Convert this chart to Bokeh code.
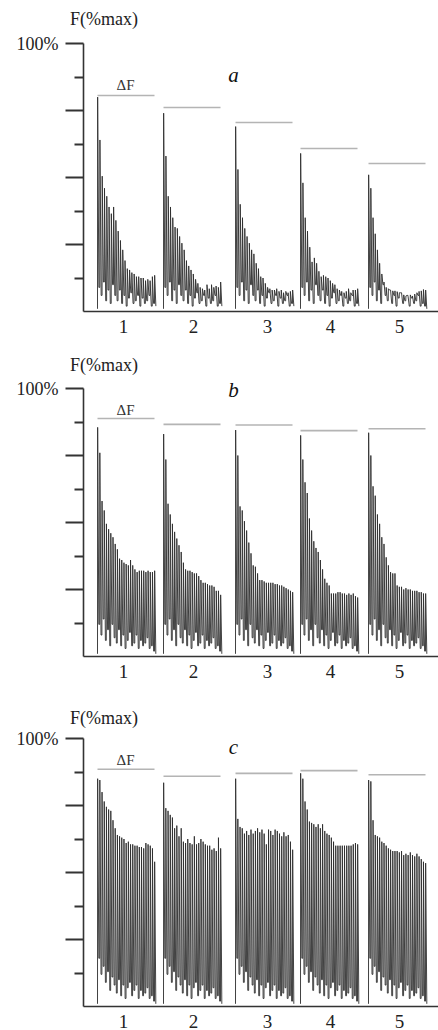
from bokeh.plotting import figure
from bokeh.layouts import column
from bokeh.models import Range1d, FixedTicker, Label
from bokeh.embed import file_html
from bokeh.resources import INLINE

# ---------------- data ----------------
groups = ["1", "2", "3", "4", "5"]
y_ticks_major = [25, 50, 75, 100]
y_ticks_minor = [12.5, 37.5, 62.5, 87.5]

peaks_a1 = [80, 64, 50.5, 46, 43, 39, 36.5, 39, 34, 30, 26.5, 23, 19, 16, 15.5, 14.5, 14, 13, 13, 12.5, 12.5, 11.5, 12, 11.5, 13, 13.5]
peaks_a2 = [74, 58, 43, 39, 35, 31.5, 31, 28, 25.5, 23, 19, 17, 15.5, 14, 12, 10.5, 9, 8.5, 8, 10, 8.5, 10, 9, 9.5, 9, 11]
peaks_a3 = [69, 53, 40, 35, 31, 28, 25.5, 23, 21.5, 18, 16, 13, 12.5, 10.5, 9, 8.5, 8, 8, 8.5, 7.5, 8, 7, 7.5, 7, 7.5, 8]
peaks_a4 = [59, 48, 35, 30, 24, 18.5, 20, 18, 15, 13, 13.5, 13, 12.5, 11.5, 10.5, 10, 8.5, 8, 7.5, 7, 7.5, 8.5, 7, 8, 8, 8.5]
peaks_a5 = [51, 46, 35, 29, 23, 18, 14, 11, 9, 8.5, 8, 7.7, 7.7, 7.4, 7, 7, 6.2, 5.8, 5.5, 6.2, 5.8, 6.5, 7, 7.5, 7.7, 8.2, 8]
delta_a = [80.6, 76.1, 70.5, 60.8, 55.2]
troughs_a = [1, 9, 6, 11, 4, 8, 3, 10, 6, 4, 8, 3, 6, 2, 5, 7, 3, 4, 6, 2, 5, 3, 4, 6, 2, 3, 2, 1]

peaks_b1 = [85.5, 76, 58, 54.5, 49.5, 47.5, 46, 44.5, 42, 40, 36.5, 36, 35, 34.5, 34, 36, 34, 32.5, 31.5, 32, 32, 32, 31.5, 32, 31.5, 31.5, 32]
peaks_b2 = [83, 73.5, 57, 53, 49.5, 46.5, 44, 41.5, 39, 35, 32.5, 32, 32, 31.5, 31, 31, 30, 28.5, 27.5, 27.5, 27, 26.5, 26.5, 26, 24.5, 24.5, 23]
peaks_b3 = [84.5, 75, 56, 54.5, 50.5, 47, 42.5, 38.5, 34, 33.5, 31, 28.5, 28.5, 28, 27.5, 27.5, 27.5, 27.5, 27, 27, 26.5, 26.5, 26, 25.5, 25, 24.5, 24]
peaks_b4 = [82.5, 73.5, 65, 61, 51.5, 47, 43, 40.5, 39, 36, 32.5, 29, 27.5, 26.5, 23.5, 23.5, 23.5, 24, 24, 23.5, 23.5, 23, 23.5, 23, 23.5, 22.5, 22]
peaks_b5 = [83.5, 75, 63.5, 60, 53, 49.5, 44.5, 42, 37, 34, 31.5, 31, 31, 26.5, 26, 26, 25, 25.5, 25, 25, 24.5, 24.5, 24.5, 24, 24, 23.5, 23.5]
delta_b = [88.8, 86.6, 86.4, 84.3, 85.0]
troughs_b = [1, 12, 8, 14, 6, 10, 4, 12, 7, 5, 10, 4, 8, 3, 6, 9, 4, 5, 8, 3, 6, 4, 5, 7, 3, 4, 2, 1]

peaks_c1 = [85, 84.5, 80, 76.5, 74.5, 73.5, 73, 69.5, 66.5, 64, 63.5, 63, 62.5, 61, 61.5, 60.5, 60.5, 60, 60, 59.5, 59.5, 59, 61, 60.5, 60, 59, 54]
peaks_c2 = [83.5, 74, 73, 71.5, 70.5, 66.5, 67.5, 63.5, 66.5, 61.5, 61, 62.5, 61, 60.5, 63.5, 60.5, 61, 62.5, 61.5, 60.5, 60, 60, 58.5, 59, 58, 63, 59]
peaks_c3 = [85, 70, 67, 66.5, 64.5, 65.5, 64, 66, 64.5, 65.5, 66.5, 65, 66, 64.5, 60.5, 66, 65.5, 64, 66, 65.5, 64.5, 63.5, 65, 63.5, 64, 61.5, 58.5]
peaks_c4 = [87, 85, 76.5, 73.5, 69, 68.5, 68, 67, 68, 66.5, 68, 65.5, 64.5, 64, 63, 61.5, 60, 60, 60, 60, 60, 60, 60, 60, 60.5, 61, 60.5]
peaks_c5 = [84.5, 84, 69.5, 64, 63.5, 63, 61.5, 61, 60, 59, 58.5, 58, 58, 58, 57.5, 58, 56.5, 57, 56.5, 57.5, 56.5, 56, 57, 56, 55, 54, 53.5]
delta_c = [88.5, 85.9, 87.0, 88.0, 86.5]
troughs_c = [1, 18, 12, 15, 9, 13, 6, 11, 8, 5, 10, 4, 8, 3, 7, 9, 4, 6, 8, 3, 6, 4, 5, 7, 3, 4, 2, 1]

# ---------------- layout constants ----------------
GROUP_START = [14, 80, 152, 217, 285]
GROUP_W = 57
LABEL_X = [40, 110, 184, 247, 316]
PX_PER_UNIT = 2.68
FIG_W = 438
AXIS_PX = 83          # page x of the y axis
SERIF = "Liberation Serif"


def make_panel(letter, peaks, delta, troughs, height, base_px, fy, ly, dy):
    # the whole figure is the frame; axes are pinned at data locations
    y_top = base_px / PX_PER_UNIT
    y_bot = -(height - base_px) / PX_PER_UNIT
    p = figure(width=FIG_W, height=height, output_backend="svg", toolbar_location=None,
               x_range=Range1d(-AXIS_PX, FIG_W - AXIS_PX), y_range=Range1d(y_bot, y_top),
               min_border_left=0, min_border_right=0, min_border_top=0, min_border_bottom=0)
    p.outline_line_color = None
    p.xgrid.visible = False
    p.ygrid.visible = False
    p.background_fill_color = "white"
    p.border_fill_color = "white"

    # spike trains
    for g in range(len(groups)):
        pk = peaks[g]
        n = len(pk)
        sp = GROUP_W / (n - 1)
        xs, ys = [], []
        for i, v in enumerate(pk):
            x = GROUP_START[g] + i * sp
            xs += [x, x + 0.15, x + 0.6 * sp]
            ys += [troughs[i], v, troughs[i + 1]]
        p.line(xs, ys, line_color="#2e2e2e", line_width=1.0, line_alpha=0.9)
        # Delta F reference line
        p.line([GROUP_START[g], GROUP_START[g] + GROUP_W], [delta[g], delta[g]],
               line_color="#b4b4b4", line_width=1.6)

    # y axis
    ya = p.yaxis[0]
    ya.fixed_location = 0
    ya.ticker = FixedTicker(ticks=y_ticks_major, minor_ticks=y_ticks_minor)
    ya.bounds = (0, 100)
    ya.major_tick_out = 18
    ya.major_tick_in = 0
    ya.minor_tick_out = 9
    ya.minor_tick_in = 0
    ya.axis_line_width = 1.6
    ya.major_tick_line_width = 2
    ya.minor_tick_line_width = 2
    ya.axis_line_color = "#333333"
    ya.major_tick_line_color = "#333333"
    ya.minor_tick_line_color = "#333333"
    ya.major_label_overrides = {25: "", 50: "", 75: "", 100: "100%"}
    ya.major_label_text_font = SERIF
    ya.major_label_text_font_size = "18px"
    ya.major_label_text_color = "#222222"
    ya.major_label_standoff = 7

    # x axis
    xa = p.xaxis[0]
    xa.fixed_location = 0
    xa.bounds = (0, FIG_W - AXIS_PX)
    xa.ticker = FixedTicker(ticks=LABEL_X)
    xa.major_label_overrides = {LABEL_X[i]: groups[i] for i in range(len(groups))}
    xa.major_tick_out = 0
    xa.major_tick_in = 0
    xa.minor_tick_out = 0
    xa.minor_tick_in = 0
    xa.axis_line_width = 1.6
    xa.axis_line_color = "#333333"
    xa.major_label_text_font = SERIF
    xa.major_label_text_font_size = "19px"
    xa.major_label_text_color = "#222222"
    xa.major_label_standoff = 8

    p.add_layout(Label(x=20.5, y=fy, text="F(%max)", text_align="center", text_baseline="middle",
                       text_font=SERIF, text_font_size="18px", text_color="#222222"))
    p.add_layout(Label(x=150, y=ly, text=letter, text_align="center", text_baseline="middle",
                       text_font=SERIF, text_font_style="italic", text_font_size="21px",
                       text_color="#111111"))
    p.add_layout(Label(x=42, y=dy, text="ΔF", text_align="center", text_baseline="middle",
                       text_font=SERIF, text_font_size="15px", text_color="#333333"))
    return p


pa = make_panel("a", [peaks_a1, peaks_a2, peaks_a3, peaks_a4, peaks_a5], delta_a, troughs_a,
                345, 311, 109.3, 88.4, 84.5)
pb = make_panel("b", [peaks_b1, peaks_b2, peaks_b3, peaks_b4, peaks_b5], delta_b, troughs_b,
                345, 311, 108.6, 99.3, 92.0)
pc = make_panel("c", [peaks_c1, peaks_c2, peaks_c3, peaks_c4, peaks_c5], delta_c, troughs_c,
                340, 316, 107.8, 97.0, 91.8)

layout = column(pa, pb, pc, spacing=0)
open("out.html", "w").write(file_html(layout, INLINE))
